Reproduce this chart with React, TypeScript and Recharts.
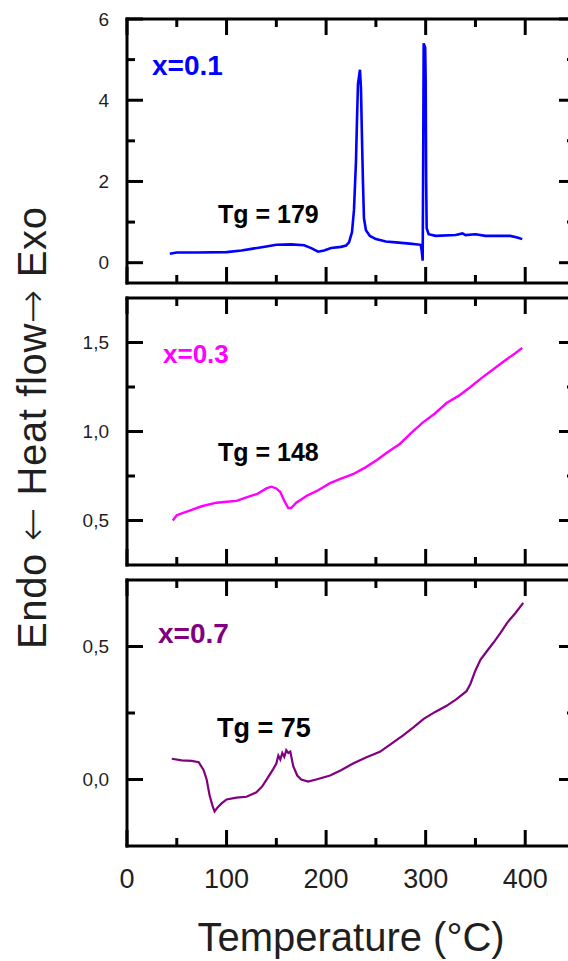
import React from "react";
import { LineChart, Line, XAxis, YAxis } from "recharts";

const FONT = "'Liberation Sans', Arial, Helvetica, sans-serif";
const ARROW_FONT = "'DejaVu Sans', sans-serif";
const INK = "#1f1f1f";

// temperature axis (°C)
const tempTicks = [0, 50, 100, 150, 200, 250, 300, 350, 400];
const tempMajor = [0, 100, 200, 300, 400];
const tempDomain: [number, number] = [0, 450];

// x = 0.1 : two sharp exotherms (crystallisation)
const tempX01 = [
  43, 50, 70, 100, 115, 125, 140, 150, 165, 178, 185, 192, 198, 205, 215, 220,
  223, 226, 228, 230, 231, 232, 234, 235, 236, 237, 238, 240, 244, 250, 260,
  270, 284, 295, 296, 297, 297.5, 298, 299.5, 300, 300.5, 301, 303, 310, 330,
  337, 340, 350, 360, 385, 392, 397,
];
const flowX01 = [
  0.22, 0.25, 0.25, 0.26, 0.3, 0.34, 0.4, 0.44, 0.45, 0.43, 0.36, 0.27, 0.3,
  0.36, 0.39, 0.42, 0.5, 0.75, 1.3, 2.5, 3.5, 4.4, 4.75, 4.3, 3.1, 2.0, 1.1,
  0.8, 0.66, 0.58, 0.52, 0.5, 0.47, 0.44, 0.3, 0.05, 2.5, 5.4, 5.3, 4.5, 2.0,
  0.85, 0.7, 0.66, 0.68, 0.72, 0.68, 0.7, 0.66, 0.66, 0.62, 0.58,
];
const ticksX01 = [0, 1, 2, 3, 4, 5, 6];
const majorX01 = [0, 2, 4, 6];

// x = 0.3
const tempX03 = [
  46, 50, 55, 65, 75, 90, 100, 110, 120, 131, 140, 145, 150, 154, 158, 162,
  165, 170, 181, 192, 204, 215, 227, 240, 251, 262, 274, 285, 297, 309, 321,
  333, 345, 356, 368, 380, 390, 397,
];
const flowX03 = [
  0.5, 0.53, 0.54, 0.56, 0.58, 0.6, 0.605, 0.61, 0.63, 0.65, 0.68, 0.69, 0.68,
  0.66, 0.61, 0.57, 0.57, 0.6, 0.64, 0.67, 0.71, 0.735, 0.76, 0.8, 0.84, 0.885,
  0.93, 0.99, 1.05, 1.1, 1.16, 1.2, 1.25, 1.3, 1.35, 1.4, 1.44, 1.47,
];
const ticksX03 = [0.5, 0.75, 1, 1.25, 1.5];
const majorX03 = [0.5, 1, 1.5];

// x = 0.7
const tempX07 = [
  45, 55, 65, 72, 77, 80, 83, 86, 88, 91, 95, 100, 110, 120, 130, 136, 141,
  147, 150, 152, 154, 156, 158, 160, 162, 164, 167, 171, 175, 182, 190, 204,
  215, 227, 240, 254, 265, 277, 288, 298, 310, 321, 331, 341, 345, 350, 355,
  362, 368, 375, 382, 390, 398,
];
const flowX07 = [
  0.078, 0.072, 0.07, 0.065, 0.035, 0.0, -0.06, -0.1, -0.12, -0.105, -0.09,
  -0.075, -0.068, -0.065, -0.048, -0.025, 0.004, 0.04, 0.06, 0.09, 0.075, 0.1,
  0.085, 0.11, 0.1, 0.105, 0.05, 0.015, 0.0, -0.008, 0.0, 0.015, 0.035, 0.06,
  0.083, 0.104, 0.133, 0.165, 0.197, 0.228, 0.255, 0.277, 0.302, 0.332, 0.36,
  0.41, 0.45, 0.485, 0.514, 0.55, 0.59, 0.625, 0.664,
];
const ticksX07 = [0, 0.25, 0.5];
const majorX07 = [0, 0.5];

const PAD = 10;
const MAJOR_LEN = 16;
const MINOR_LEN = 8;
const frameLine = { stroke: "#000", strokeWidth: 3, strokeLinecap: "square" as const };

type Side = "top" | "bottom" | "left" | "right";

// ticks point into the frame; labels (if any) sit outside
function inwardTick(
  side: Side,
  major: number[],
  label?: (v: number) => string
) {
  return (props: any) => {
    const { x, y, payload } = props;
    const v = payload.value as number;
    const isMajor = major.some((m) => Math.abs(m - v) < 1e-9);
    const len = isMajor ? MAJOR_LEN : MINOR_LEN;
    let x2 = x;
    let y2 = y;
    if (side === "bottom") y2 = y - len;
    if (side === "top") y2 = y + len;
    if (side === "left") x2 = x + len;
    if (side === "right") x2 = x - len;
    return (
      <g>
        <line x1={x} y1={y} x2={x2} y2={y2} stroke="#000" strokeWidth={3} />
        {label && isMajor && side === "left" ? (
          <text
            x={x - 18}
            y={y}
            textAnchor="end"
            dominantBaseline="central"
            fontSize={19}
            fontFamily={FONT}
            fill={INK}
          >
            {label(v)}
          </text>
        ) : null}
        {label && isMajor && side === "bottom" ? (
          <text
            x={x}
            y={y + 42}
            textAnchor="middle"
            fontSize={27}
            fontFamily={FONT}
            fill={INK}
          >
            {label(v)}
          </text>
        ) : null}
      </g>
    );
  };
}

const commaFmt = (v: number) => v.toFixed(1).replace(".", ",");

type PanelProps = {
  top: number;
  plotH: number;
  temps: number[];
  flows: number[];
  color: string;
  lineWidth: number;
  yDomain: [number, number];
  yTicks: number[];
  yMajor: number[];
  fmt: (v: number) => string;
  tempLabels?: boolean;
};

function Panel(p: PanelProps) {
  const data = p.temps.map((t, i) => ({ t, f: p.flows[i] }));
  const bottomH = p.tempLabels ? 60 : 1;
  return (
    <div style={{ position: "absolute", left: 0, top: p.top - PAD }}>
      <LineChart
        width={600}
        height={PAD + p.plotH + bottomH + PAD}
        data={data}
        margin={{ top: PAD - 1, right: 0, bottom: PAD, left: 0 }}
      >
        <XAxis
          dataKey="t"
          type="number"
          domain={tempDomain}
          ticks={tempTicks}
          interval={0}
          allowDataOverflow
          height={bottomH}
          tickSize={0}
          tickMargin={0}
          tickLine={false}
          axisLine={frameLine}
          tick={inwardTick("bottom", tempMajor, p.tempLabels ? (v) => String(v) : undefined)}
        />
        <XAxis
          xAxisId="top"
          orientation="top"
          dataKey="t"
          type="number"
          domain={tempDomain}
          ticks={tempTicks}
          interval={0}
          allowDataOverflow
          height={1}
          tickSize={0}
          tickMargin={0}
          tickLine={false}
          axisLine={frameLine}
          tick={inwardTick("top", tempMajor)}
        />
        <YAxis
          type="number"
          domain={p.yDomain}
          ticks={p.yTicks}
          interval={0}
          allowDataOverflow
          width={127}
          tickSize={0}
          tickMargin={0}
          tickLine={false}
          axisLine={frameLine}
          tick={inwardTick("left", p.yMajor, p.fmt)}
        />
        <YAxis
          yAxisId="right"
          orientation="right"
          type="number"
          domain={p.yDomain}
          ticks={p.yTicks}
          interval={0}
          allowDataOverflow
          width={25}
          tickSize={0}
          tickMargin={0}
          tickLine={false}
          axisLine={frameLine}
          tick={inwardTick("right", p.yMajor)}
        />
        <Line
          type="linear"
          dataKey="f"
          stroke={p.color}
          strokeWidth={p.lineWidth}
          dot={false}
          activeDot={false}
          isAnimationActive={false}
        />
      </LineChart>
    </div>
  );
}

export default function App() {
  return (
    <div
      style={{
        position: "absolute",
        left: 0,
        top: 0,
        width: 568,
        height: 961,
        overflow: "hidden",
        background: "#fff",
        fontFamily: FONT,
      }}
    >
      <Panel
        top={19}
        plotH={264}
        temps={tempX01}
        flows={flowX01}
        color="#0000ff"
        lineWidth={2.6}
        yDomain={[-0.5, 6]}
        yTicks={ticksX01}
        yMajor={majorX01}
        fmt={(v) => String(v)}
      />
      <Panel
        top={298}
        plotH={267}
        temps={tempX03}
        flows={flowX03}
        color="#ff00ff"
        lineWidth={2.4}
        yDomain={[0.25, 1.75]}
        yTicks={ticksX03}
        yMajor={majorX03}
        fmt={commaFmt}
      />
      <Panel
        top={580}
        plotH={266}
        temps={tempX07}
        flows={flowX07}
        color="#800080"
        lineWidth={2.2}
        yDomain={[-0.25, 0.75]}
        yTicks={ticksX07}
        yMajor={majorX07}
        fmt={commaFmt}
        tempLabels
      />
      <svg
        width={568}
        height={961}
        style={{ position: "absolute", left: 0, top: 0, pointerEvents: "none" }}
        fontFamily={FONT}
      >
        <text x={152} y={75} fontSize={28} fontWeight="bold" fill="#0000ff">
          x=0.1
        </text>
        <text x={218} y={223} fontSize={25} fontWeight="bold" fill="#000">
          Tg = 179
        </text>
        <text x={163} y={363} fontSize={26} fontWeight="bold" fill="#ff00ff">
          x=0.3
        </text>
        <text x={218} y={461} fontSize={25} fontWeight="bold" fill="#000">
          Tg = 148
        </text>
        <text x={158} y={643} fontSize={28} fontWeight="bold" fill="#800080">
          x=0.7
        </text>
        <text x={217} y={737} fontSize={27} fontWeight="bold" fill="#000">
          Tg = 75
        </text>
        <text x={351} y={951} fontSize={40} textAnchor="middle" fill={INK}>
          Temperature (°C)
        </text>
        <text
          x={46}
          y={428}
          fontSize={40}
          textAnchor="middle"
          textLength={442}
          lengthAdjust="spacing"
          fill={INK}
          transform="rotate(-90 46 428)"
        >
          Endo <tspan fontFamily={ARROW_FONT} fontWeight={300}>←</tspan> Heat flow
          <tspan fontFamily={ARROW_FONT} fontWeight={300}>→</tspan> Exo
        </text>
      </svg>
    </div>
  );
}
